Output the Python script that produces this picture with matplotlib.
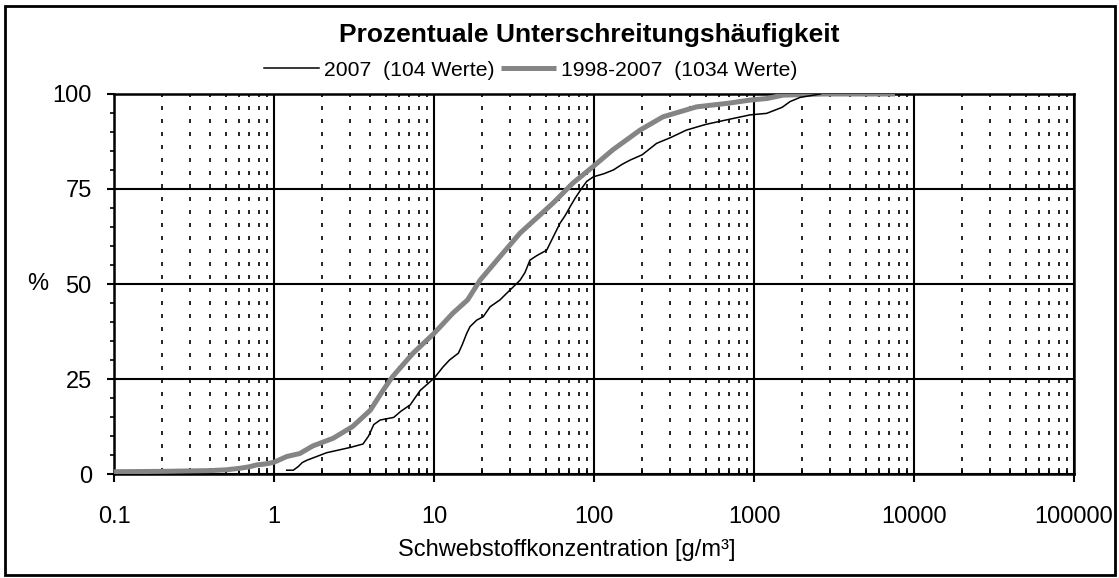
import matplotlib
matplotlib.use('Agg')
import matplotlib.pyplot as plt
from matplotlib.ticker import LogLocator, FuncFormatter, MultipleLocator
from matplotlib.patches import Rectangle

plt.rcParams['font.family'] = ['Liberation Sans', 'DejaVu Sans']

# Unterschreitungshaeufigkeit 1998-2007 (1034 Werte)
conc_all = [0.1, 0.2, 0.4, 0.5, 0.61, 0.7, 0.78, 0.9, 1.0, 1.2, 1.45, 1.75, 2.34, 3.1,
            4.0, 4.8, 5.5, 7.4, 10, 13.1, 16.2, 19.4, 25, 34.5, 55.5, 74, 98, 131, 194,
            270, 436, 700, 944, 1200, 1520, 2700, 7600]
pct_all = [0.6, 0.7, 0.9, 1.1, 1.5, 1.9, 2.4, 2.7, 3.1, 4.6, 5.4, 7.4, 9.4, 12.5,
           16.8, 22.0, 25.6, 31.8, 37.0, 42.3, 45.8, 51.0, 56.5, 63.4, 71.3, 76.6, 80.8, 85.3, 90.5,
           94.0, 96.6, 97.6, 98.4, 98.8, 99.7, 100, 100]

# Unterschreitungshaeufigkeit 2007 (104 Werte)
conc_2007 = [1.2, 1.32, 1.42, 1.5, 1.6, 2.13, 3.0, 3.6, 3.9, 4.2, 4.6, 5.6, 6.2, 7.1, 7.6,
             8.2, 9.0, 10.0, 11.4, 12.5, 14.2, 15.0, 16.0, 16.8, 18.5, 20.3, 22.4, 25.8, 30,
             34.5, 37, 39.8, 44, 50.6, 55, 61.3, 66, 70.8, 76, 83.8, 90, 99, 115, 132, 150,
             168, 200, 246, 300, 378, 500, 676, 944, 1200, 1500, 1680, 1940, 2600]
pct_2007 = [1.0, 1.0, 2.0, 3.0, 3.6, 5.6, 7.0, 7.9, 10.0, 13.0, 14.2, 14.9, 16.5, 18.2, 20.0,
            22.0, 23.5, 25.2, 28.2, 30.0, 31.8, 34.0, 37.0, 38.8, 40.5, 41.4, 44.0, 45.8, 48.5,
            51.0, 53.0, 56.3, 57.5, 58.9, 62.0, 66.0, 68.0, 70.3, 72.5, 75.2, 77.0, 78.2, 79.0, 80.0, 81.5,
            82.6, 84.0, 87.0, 88.5, 90.5, 92.0, 93.2, 94.5, 94.9, 96.5, 98.0, 99.1, 100]

label_2007 = '2007  (104 Werte)'
label_all = '1998-2007  (1034 Werte)'
title = 'Prozentuale Unterschreitungshäufigkeit'
xlab = 'Schwebstoffkonzentration [g/m³]'
ylab = '%'

fig = plt.figure(figsize=(11.19, 5.78), dpi=100)
ax = fig.add_axes([0.1019, 0.1799, 0.8579, 0.6575])

ax.set_xscale('log')
ax.set_xlim(0.1, 100000)
ax.set_ylim(0, 100)

# grid: solid decades / quarters, dotted sub-decades
ax.xaxis.set_major_locator(LogLocator(base=10, numticks=10))
ax.xaxis.set_minor_locator(LogLocator(base=10, subs=range(2, 10), numticks=100))
ax.xaxis.set_major_formatter(FuncFormatter(lambda v, p: '%g' % v))
ax.yaxis.set_major_locator(MultipleLocator(25))
ax.yaxis.set_minor_locator(MultipleLocator(5))
ax.grid(True, which='major', axis='both', color='black', linestyle='-', linewidth=1.5)
ax.grid(True, which='minor', axis='x', color='black', linestyle=(0, (2.4, 5.4)), linewidth=1.2)
ax.set_axisbelow(True)

ax.tick_params(axis='x', which='major', direction='out', length=6, width=1.5, pad=17, labelsize=17)
ax.tick_params(axis='x', which='minor', direction='in', length=4, width=1.2)
ax.tick_params(axis='y', which='major', direction='out', length=5, width=1.5, pad=11, labelsize=17)
ax.tick_params(axis='y', which='minor', direction='out', length=3, width=1.2)
for s in ax.spines.values():
  s.set_linewidth(1.8)

l_all, = ax.plot(conc_all, pct_all, color='#858585', linewidth=3.6, solid_capstyle='butt', zorder=3)
l_07, = ax.plot(conc_2007, pct_2007, color='black', linewidth=1.1, zorder=4)

ax.set_xlabel(xlab, fontsize=17)
ax.xaxis.set_label_coords(0.472, -0.172)
ax.set_ylabel(ylab, fontsize=17, rotation=0, ha='center', va='center')
ax.yaxis.set_label_coords(-0.079, 0.5)

fig.text(0.527, 1 - 35/578., title, fontsize=19, fontweight='bold', ha='center', va='center')
fig.legend([l_07, l_all], [label_2007, label_all], loc='center', bbox_to_anchor=(0.4745, 1 - 70/578.),
           ncol=2, frameon=False, fontsize=15.2, handlelength=2.6, handletextpad=0.25,
           columnspacing=0.3, borderpad=0, borderaxespad=0)

# frame round the whole figure
fig.patches.append(Rectangle((0.0049, 0.0052), 0.9915, 0.9844, transform=fig.transFigure,
                             fill=False, edgecolor='black', linewidth=2))

plt.savefig('out.png', dpi=100)
